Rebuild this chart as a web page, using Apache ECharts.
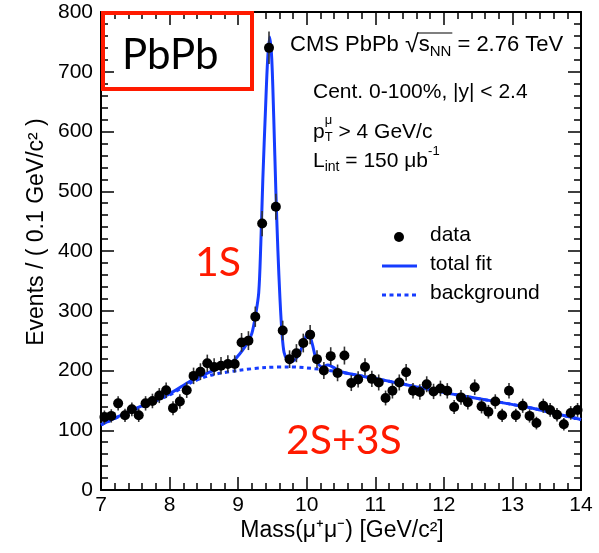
<!DOCTYPE html>
<html>
<head>
<meta charset="utf-8">
<script src="https://cdn.jsdelivr.net/npm/echarts@6/dist/echarts.min.js"></script>
<style>
html,body{margin:0;padding:0;background:#fff;}
#c{width:599px;height:553px;}
</style>
</head>
<body>
<div id="c"></div>
<script>
// ---- data ----
const massBins = [7.05,7.15,7.25,7.35,7.45,7.55,7.65,7.75,7.85,7.95,
  8.05,8.15,8.25,8.35,8.45,8.55,8.65,8.75,8.85,8.95,
  9.05,9.15,9.25,9.35,9.45,9.55,9.65,9.75,9.85,9.95,
  10.05,10.15,10.25,10.35,10.45,10.55,10.65,10.75,10.85,10.95,
  11.05,11.15,11.25,11.35,11.45,11.55,11.65,11.75,11.85,11.95,
  12.05,12.15,12.25,12.35,12.45,12.55,12.65,12.75,12.85,12.95,
  13.05,13.15,13.25,13.35,13.45,13.55,13.65,13.75,13.85,13.95];
const events = [122,124,145,125,135,125,145,149,158,167,
  137,148,167,191,198,212,206,208,211,211,
  247,250,290,446,740,474,267,219,229,246,
  260,219,200,224,196,225,179,185,206,186,
  180,154,166,180,197,166,164,177,165,170,
  166,139,155,147,172,140,131,148,125,166,
  125,141,124,112,141,134,126,110,129,134];
const fitMass = [7.0,7.5,8.0,8.3,8.6,8.9,9.03,9.1,9.15,9.2,9.25,9.3,9.33,9.36,9.4,9.43,9.46,9.49,9.52,9.55,9.58,9.61,9.64,9.67,9.72,9.78,9.88,9.97,10.02,10.08,10.14,10.22,10.31,10.41,10.53,11.2,12.2,13.2,13.7,14.0];
const fitValues = [109,136,161,182,198,213,229,240,249,262,290,330,410,520,640,720,758,722,620,500,400,320,262,230,217,215,226,251,265,245,218,206,209,204,197,182,159,139,126,118];
const bkgMass = [7.0,7.5,8.0,8.3,8.6,9.0,9.4,9.75,10.2,10.5,11.2,12.2,13.2,13.7,14.0];
const bkgValues = [109,135,159,179,192,200,205,206,202,197,182,159,139,126,118];

const legendLabels = ['data','total fit','background'];
const xTitle = 'Mass(\u03BC\u207A\u03BC\u207B) [GeV/c\u00B2]';
const yTitle = 'Events / ( 0.1 GeV/c\u00B2 )';

// ---- styling ----
const BLUE = '#163cff';
const FONT = 'Liberation Sans, Arial, sans-serif';
const ANNO = 'Lato, "Open Sans", sans-serif';
const RED = '#ff1a00';

const cv = document.createElement('canvas').getContext('2d');
function tw(t, s, f){ cv.font = s + 'px ' + f; return cv.measureText(t).width; }

function textLine(x, yc, pieces, S){
  const els = [];
  let cx = x;
  pieces.forEach(function(p){
    if (p.stack){
      const s = p.size;
      els.push({type:'text', left:cx, top:yc - 0.55*S - s/2, style:{text:p.sup, font:s+'px '+FONT, fill:'#000'}});
      els.push({type:'text', left:cx, top:yc + 0.25*S - s/2, style:{text:p.sub, font:s+'px '+FONT, fill:'#000'}});
      cx += Math.max(tw(p.sup,s,FONT), tw(p.sub,s,FONT));
    } else {
      const s = p.size || S;
      let top = yc - s/2;
      if (p.kind === 'sub') top = yc + 0.3*S - s/2;
      if (p.kind === 'sup') top = yc - 0.45*S - s/2;
      els.push({type:'text', left:cx, top:top, style:{text:p.t, font:s+'px '+FONT, fill:'#000'}});
      p._x = cx;
      cx += tw(p.t, s, FONT);
      p._x2 = cx;
    }
  });
  return els;
}

const S = 21;
const l1 = [{t:'CMS PbPb ',size:22},{t:'\u221A',size:25},{t:'s',size:22},{t:'NN',kind:'sub',size:15},{t:' = 2.76 TeV',size:22}];
const line1 = textLine(290, 45, l1, 22);
const overline = {type:'line', shape:{x1:l1[1]._x2 - 1, y1:33, x2:l1[3]._x2 + 1, y2:33}, style:{stroke:'#000', lineWidth:1.2}};
const line2 = textLine(313, 92, [{t:'Cent. 0-100%, |y| < 2.4'}], S);
const line3 = textLine(313, 132, [{t:'p'},{stack:true,sup:'\u03BC',sub:'T',size:13},{t:' > 4 GeV/c'}], S);
const line4 = textLine(313, 161, [{t:'L'},{t:'int',kind:'sub',size:14},{t:' = 150 \u03BCb'},{t:'-1',kind:'sup',size:13}], S);

const chart = echarts.init(document.getElementById('c'));

const axisCommon = {
  axisLine:{show:true, onZero:false, lineStyle:{color:'#000', width:2}},
  axisTick:{show:true, inside:true, length:13, lineStyle:{color:'#000', width:1.5}},
  minorTick:{show:true, splitNumber:5, length:7, lineStyle:{color:'#000', width:1.5}},
  splitLine:{show:false}, minorSplitLine:{show:false}
};

chart.setOption({
  animation:false,
  backgroundColor:'#fff',
  grid:{left:101, right:18, top:12, bottom:63},
  xAxis:[
    Object.assign({type:'value', min:7, max:14, interval:1, position:'bottom',
      axisLabel:{color:'#000', fontSize:21, fontFamily:FONT, margin:5}}, axisCommon),
    Object.assign({type:'value', min:7, max:14, interval:1, position:'top',
      axisLabel:{show:false}}, axisCommon)
  ],
  yAxis:[
    Object.assign({type:'value', min:0, max:800, interval:100, position:'left',
      axisLabel:{color:'#000', fontSize:21, fontFamily:FONT, margin:8}}, axisCommon),
    Object.assign({type:'value', min:0, max:800, interval:100, position:'right',
      axisLabel:{show:false}}, axisCommon)
  ],
  series:[
    {name:'background', type:'line', xAxisIndex:0, yAxisIndex:0, showSymbol:false, symbol:'none', smooth:0.3,
      data: bkgMass.map((m,i)=>[m,bkgValues[i]]),
      lineStyle:{color:BLUE, width:3, type:[4,3.5]}, z:2},
    {name:'total fit', type:'line', xAxisIndex:0, yAxisIndex:0, showSymbol:false, symbol:'none', smooth:0.3,
      data: fitMass.map((m,i)=>[m,fitValues[i]]),
      lineStyle:{color:BLUE, width:3}, z:3},
    {name:'errors', type:'custom', xAxisIndex:0, yAxisIndex:0,
      data: massBins.map((m,i)=>[m,events[i]]),
      renderItem:function(params, api){
        const x = api.value(0), y = api.value(1), e = Math.sqrt(y);
        const a = api.coord([x, y - e]), b = api.coord([x, y + e]);
        return {type:'line', shape:{x1:a[0], y1:a[1], x2:b[0], y2:b[1]}, style:{stroke:'#333', lineWidth:1.6}};
      }, z:4},
    {name:'data', type:'scatter', xAxisIndex:0, yAxisIndex:0, symbol:'circle', symbolSize:10,
      data: massBins.map((m,i)=>[m,events[i]]),
      itemStyle:{color:'#000', opacity:1}, z:5}
  ],
  graphic:[
    {type:'rect', shape:{x:103, y:13, width:149, height:76}, style:{fill:'none', stroke:RED, lineWidth:4}, z:10},
    {type:'text', left:122, top:34, style:{text:'PbPb', font:'42px '+ANNO, fill:'#000'}, z:10},
    {type:'text', left:195, top:242, style:{text:'1S', font:'41px '+ANNO, fill:RED}},
    {type:'text', left:286, top:420, style:{text:'2S+3S', font:'41px '+ANNO, fill:RED}},
    {type:'text', x:37, y:232, rotation:Math.PI/2, style:{text:yTitle, font:'23px '+FONT, fill:'#000', align:'center', verticalAlign:'middle'}},
    {type:'text', x:342, y:531, style:{text:xTitle, font:'23px '+FONT, fill:'#000', align:'center', verticalAlign:'middle'}},
    {type:'circle', shape:{cx:399, cy:237, r:5}, style:{fill:'#000'}},
    {type:'text', left:430, top:237-12, style:{text:legendLabels[0], font:S+'px '+FONT, fill:'#000'}},
    {type:'line', shape:{x1:382, y1:266, x2:417, y2:266}, style:{stroke:BLUE, lineWidth:3}},
    {type:'text', left:430, top:266-12, style:{text:legendLabels[1], font:S+'px '+FONT, fill:'#000'}},
    {type:'line', shape:{x1:382, y1:295, x2:417, y2:295}, style:{stroke:BLUE, lineWidth:3, lineDash:[4,3.5]}},
    {type:'text', left:430, top:295-12, style:{text:legendLabels[2], font:S+'px '+FONT, fill:'#000'}},
    overline
  ].concat(line1, line2, line3, line4)
});
</script>
</body>
</html>
